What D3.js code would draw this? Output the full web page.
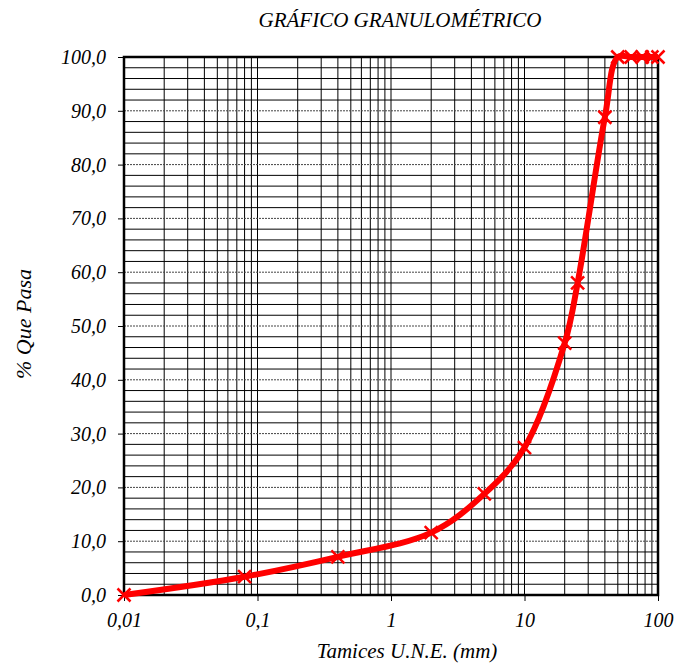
<!DOCTYPE html>
<html>
<head>
<meta charset="utf-8">
<script src="https://cdn.jsdelivr.net/npm/d3@7"></script>
<style>
	body { margin: 0; background: #fff; }
	text { font-family: "Liberation Serif", "Times New Roman", serif; font-style: italic; }
</style>
</head>
<body>
<svg id="chart"></svg>
<script>
// sieve sizes (mm) and % passing
var sizes = [0.01, 0.08, 0.4, 2, 5, 10, 20, 25, 40, 50, 63, 76, 90, 100]
var passing = [0.0, 3.4, 7.1, 11.6, 18.8, 27.4, 46.8, 58.0, 88.8, 100, 100, 100, 100, 100]
var xTicks = [0.01, 0.1, 1, 10, 100]
var xTickLabels = ["0,01", "0,1", "1", "10", "100"]
var yTicks = [0, 10, 20, 30, 40, 50, 60, 70, 80, 90, 100]

var dimensions = {
	width: 686,
	height: 666,
	margin: { top: 57, bottom: 71, right: 28, left: 124 }
}

var svg = d3.select("#chart")
	.attr("width", dimensions.width)
	.attr("height", dimensions.height)

var x0 = dimensions.margin.left
var x1 = dimensions.width - dimensions.margin.right
var y0 = dimensions.height - dimensions.margin.bottom
var y1 = dimensions.margin.top

var xScale = d3.scaleLog()
	.domain([0.01, 100])
	.range([x0, x1])

var yScale = d3.scaleLinear()
	.domain([0, 100])
	.range([y0, y1])

// minor vertical grid (1..9 in each decade)
var minorX = []
for (var e = -2; e < 2; e++) {
	for (var m = 2; m <= 9; m++) minorX.push(m * Math.pow(10, e))
}
minorX = minorX.concat([0.1, 1, 10])

svg.append("g")
	.selectAll("line")
	.data(minorX)
	.enter()
	.append("line")
	.attr("x1", d => xScale(d))
	.attr("x2", d => xScale(d))
	.attr("y1", y1)
	.attr("y2", y0)
	.style("stroke", "#000")
	.style("stroke-width", 1)

// horizontal grid: every 2 solid, every 10 dotted
var minorY = d3.range(2, 100, 2).filter(d => d % 10 != 0)
svg.append("g")
	.selectAll("line")
	.data(minorY)
	.enter()
	.append("line")
	.attr("x1", x0)
	.attr("x2", x1)
	.attr("y1", d => yScale(d))
	.attr("y2", d => yScale(d))
	.style("stroke", "#000")
	.style("stroke-width", 1)

svg.append("g")
	.selectAll("line")
	.data(yTicks.filter(d => d > 0 && d < 100))
	.enter()
	.append("line")
	.attr("x1", x0)
	.attr("x2", x1)
	.attr("y1", d => yScale(d))
	.attr("y2", d => yScale(d))
	.style("stroke", "#444")
	.style("stroke-width", 1)
	.style("stroke-dasharray", "2,1")

// frame
svg.append("rect")
	.attr("x", x0)
	.attr("y", y1)
	.attr("width", x1 - x0)
	.attr("height", y0 - y1)
	.style("fill", "none")
	.style("stroke", "#000")
	.style("stroke-width", 2.5)

// axes
var xAxisgen = d3.axisBottom(xScale)
	.tickValues(xTicks)
	.tickFormat((d, i) => xTickLabels[i])
	.tickSize(6)
	.tickPadding(12)

var yAxisgen = d3.axisLeft(yScale)
	.tickValues(yTicks)
	.tickFormat(d => d.toFixed(1).replace(".", ","))
	.tickSize(6)
	.tickPadding(12)

var xAxis = svg.append("g")
	.attr("transform", `translate(0,${y0})`)
	.call(xAxisgen)

var yAxis = svg.append("g")
	.attr("transform", `translate(${x0},0)`)
	.call(yAxisgen)

xAxis.select(".domain").remove()
yAxis.select(".domain").remove()
svg.selectAll(".tick line").style("stroke", "#000").style("stroke-width", 1)
svg.selectAll(".tick text")
	.style("font-family", "'Liberation Serif', serif")
	.style("font-style", "italic")
	.style("font-size", "20px")
	.style("fill", "#000")

// curve
var data = sizes.map((s, i) => ({ s: s, p: passing[i] }))

var line = d3.line()
	.x(d => xScale(d.s))
	.y(d => yScale(d.p))
	.curve(d3.curveCatmullRom.alpha(0.5))

svg.append("path")
	.datum(data)
	.attr("d", line)
	.style("fill", "none")
	.style("stroke", "#ff0000")
	.style("stroke-width", 6)
	.style("stroke-linejoin", "round")

var markers = svg.append("g")
	.selectAll("path")
	.data(data)
	.enter()
	.append("path")
	.attr("d", d => {
		var cx = xScale(d.s), cy = yScale(d.p), r = 6.5
		return `M${cx - r},${cy - r}L${cx + r},${cy + r}M${cx - r},${cy + r}L${cx + r},${cy - r}`
	})
	.style("stroke", "#ff0000")
	.style("stroke-width", 2.5)
	.style("fill", "none")

// titles
svg.append("text")
	.attr("x", 400)
	.attr("y", 27)
	.attr("text-anchor", "middle")
	.style("font-size", "21px")
	.text("GRÁFICO GRANULOMÉTRICO")

svg.append("text")
	.attr("x", 407)
	.attr("y", 658)
	.attr("text-anchor", "middle")
	.style("font-size", "21px")
	.text("Tamices U.N.E. (mm)")

svg.append("text")
	.attr("transform", "translate(31,324) rotate(-90)")
	.attr("text-anchor", "middle")
	.style("font-size", "22px")
	.text("% Que Pasa")
</script>
</body>
</html>
